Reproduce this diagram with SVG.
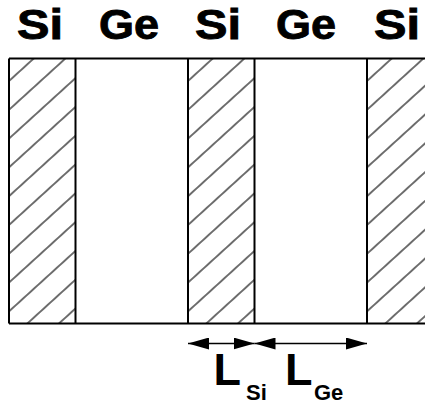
<svg xmlns="http://www.w3.org/2000/svg" width="425" height="406" viewBox="0 0 425 406">
<style>
.lbl{font-family:"Liberation Sans",Arial,sans-serif;font-weight:bold;fill:#000;}
.top{font-size:42px;text-anchor:middle;stroke:#000;stroke-width:0.9;}
.big{font-size:45px;}
.sub{font-size:22px;}
.edge{stroke:#000;stroke-width:2;fill:none;}
.arr{stroke:#000;stroke-width:1.6;fill:none;}
</style>
<defs>
<pattern id="hatch" patternUnits="userSpaceOnUse" width="20" height="21.3" patternTransform="translate(0,66.6) rotate(-42.3)">
<line x1="-1" y1="10.65" x2="21" y2="10.65" stroke="#111" stroke-width="1.2"/>
</pattern>
<marker id="ah" markerUnits="userSpaceOnUse" markerWidth="22" markerHeight="12" refX="21" refY="6" orient="auto-start-reverse">
<path d="M0,0 L21,6 L0,12 Z" fill="#000"/>
</marker>
</defs>
<g id="labels">
<text class="lbl top" x="40" y="39" textLength="46" lengthAdjust="spacingAndGlyphs">Si</text>
<text class="lbl top" x="129" y="39" textLength="60" lengthAdjust="spacingAndGlyphs">Ge</text>
<text class="lbl top" x="218" y="39" textLength="46" lengthAdjust="spacingAndGlyphs">Si</text>
<text class="lbl top" x="306" y="39" textLength="60" lengthAdjust="spacingAndGlyphs">Ge</text>
<text class="lbl top" x="397" y="39" textLength="46" lengthAdjust="spacingAndGlyphs">Si</text>
</g>
<g id="si1" transform="translate(9,0)"><rect x="0" y="58.5" width="66.5" height="265" fill="url(#hatch)"/></g>
<g id="si2" transform="translate(188,0)"><rect x="0" y="58.5" width="66.5" height="265" fill="url(#hatch)"/></g>
<g id="si3" transform="translate(367,0)"><rect x="0" y="58.5" width="60" height="265" fill="url(#hatch)"/></g>
<g id="frame">
<path class="edge" d="M9,58.5 H425 M9,323.5 H425 M9,58.5 V323.5 M75.5,58.5 V323.5 M188,58.5 V323.5 M254.5,58.5 V323.5 M367,58.5 V323.5"/>
</g>
<g id="connectors">
<line class="arr" x1="188" y1="343.5" x2="254.5" y2="343.5" marker-start="url(#ah)" marker-end="url(#ah)"/>
<line class="arr" x1="254.5" y1="343.5" x2="367" y2="343.5" marker-start="url(#ah)" marker-end="url(#ah)"/>
</g>
<g id="dims">
<text class="lbl big" x="213.5" y="385">L</text>
<text class="lbl sub" x="246" y="400">Si</text>
<text class="lbl big" x="285" y="385">L</text>
<text class="lbl sub" x="314" y="400">Ge</text>
</g>
</svg>
